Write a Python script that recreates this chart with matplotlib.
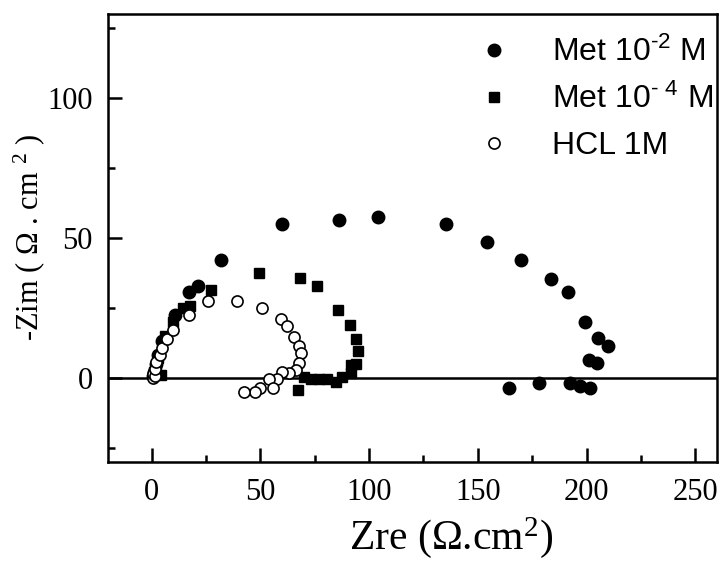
import matplotlib
matplotlib.use("Agg")
import matplotlib.pyplot as plt
from matplotlib.ticker import MultipleLocator

# Data
met2_x = [0.5, 1, 2, 3, 5, 11, 17.1, 21.6, 32, 60.2, 86.2, 104, 135.5, 154.3, 169.9,
          183.6, 191.7, 199.1, 205.5, 209.8, 201.2, 204.7, 164.5, 178.3, 192.5, 197.1, 201.7]
met2_y = [0.5, 2, 5, 8, 13, 22.6, 30.7, 33, 42, 55.1, 56.6, 57.5, 55.1, 48.5, 42,
          35.5, 30.7, 20, 14.4, 11.3, 6.3, 5.3, -3.5, -1.8, -1.8, -3, -3.5]

met4_x = [1, 2, 3, 4.4, 6, 10, 14.4, 17.9, 27.4, 49.2, 68.2, 76.3, 85.8, 91.1, 94.2,
          95.1, 94.2, 91.6, 91.6, 87.8, 84.7, 80.9, 77.1, 73.5, 70.2, 67.4]
met4_y = [2, 4, 7, 0.9, 14.9, 20, 25.1, 25.6, 31.3, 37.6, 35.8, 32.7, 24.1, 18.8, 14,
          9.4, 5.1, 4.5, 1.8, 0.3, -1.5, -0.6, -0.6, -0.6, 0.3, -4.2]

hcl_x = [0.5, 0.9, 1.8, 1.4, 2.1, 3.7, 4.9, 7, 10.1, 17.4, 25.8, 39.1, 50.8, 59.5, 62.5,
         65.3, 67.6, 68.7, 67.6, 66.4, 63.1, 60.2, 57.9, 53.9, 56, 49.9, 47.7, 42.7]
hcl_y = [0.0, 1.5, 0.6, 3.3, 5.7, 8.1, 10.5, 13.7, 17, 22.4, 27.4, 27.4, 25.1, 21.2, 18.4,
         14.6, 11.3, 8.7, 5.3, 2.7, 1.8, 2.1, -0.3, -0.3, -3.5, -3.5, -5, -5]

labels = ["Met 10$\\mathregular{^{\u2010 2}}$ M", "Met 10$\\mathregular{^{\u2010\\ 4}}$ M", "HCL 1M"]
x_ticks = [0, 50, 100, 150, 200, 250]
y_ticks = [0, 50, 100]

fig = plt.figure(figsize=(7.21, 5.63), dpi=100)
ax = fig.add_axes([0.1498, 0.18, 0.8447, 0.7946])

ax.axhline(0, color="black", lw=1.8, zorder=1)
ax.plot(met2_x, met2_y, "o", color="black", ms=9, ls="none", label=labels[0], zorder=3)
ax.plot(met4_x, met4_y, "s", color="black", ms=7, ls="none", label=labels[1], zorder=4)
ax.plot(hcl_x, hcl_y, "o", mfc="white", mec="black", mew=1.2, ms=8, ls="none",
        label=labels[2], zorder=5)

ax.set_xlim(-20, 260)
ax.set_ylim(-30, 130)
ax.set_xticks(x_ticks)
ax.set_yticks(y_ticks)
ax.xaxis.set_minor_locator(MultipleLocator(25))
ax.yaxis.set_minor_locator(MultipleLocator(25))
ax.tick_params(which="major", direction="in", length=10, width=1.8)
ax.tick_params(which="minor", direction="in", length=5, width=1.8)
ax.tick_params(axis="x", which="major", pad=12)
ax.tick_params(axis="y", which="major", pad=11)
for lab in ax.get_xticklabels() + ax.get_yticklabels():
    lab.set_fontfamily("Liberation Serif")
    lab.set_fontsize(22)
for sp in ax.spines.values():
    sp.set_linewidth(1.8)

ax.set_xlabel("Zre (\u03a9.cm$\\mathregular{^2}$)", fontfamily="Liberation Serif",
              fontsize=30)
ax.xaxis.set_label_coords(0.563, -0.12)
ax.set_ylabel("-Zim ( \u03a9 . cm $\\mathregular{^{2}}$ )", fontfamily="Liberation Serif",
              fontsize=22)
ax.yaxis.set_label_coords(-0.10, 0.5)

leg = ax.legend(loc="upper right", bbox_to_anchor=(1.03, 1.0), frameon=False,
                prop={"family": "Liberation Sans", "size": 23}, handletextpad=1.3,
                labelspacing=0.5, borderaxespad=0.3, handlelength=1.0)

fig.savefig("out.png", dpi=100)
